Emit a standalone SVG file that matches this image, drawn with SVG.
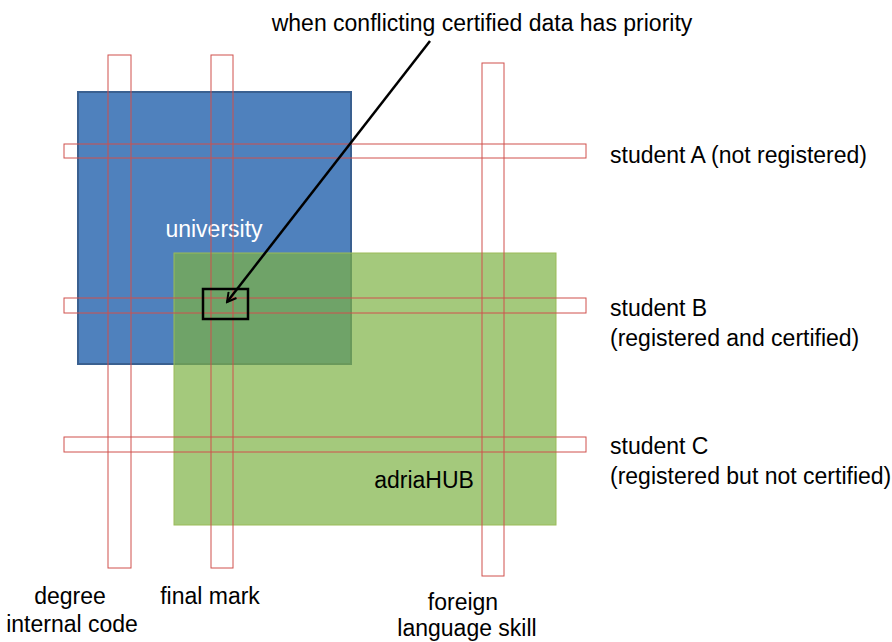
<svg xmlns="http://www.w3.org/2000/svg" width="892" height="642" viewBox="0 0 892 642">
<defs>
<style>
text{font-family:"Liberation Sans",Arial,sans-serif;font-size:23px;fill:#000}
.red{fill:none;stroke:#D0504D;stroke-width:1}
</style>
<marker id="ah" viewBox="0 0 12 12" refX="10" refY="6" markerWidth="12" markerHeight="12" markerUnits="userSpaceOnUse" orient="auto">
<path d="M1,1 L10,6 L1,11" fill="none" stroke="#000" stroke-width="2"/>
</marker>
</defs>
<rect width="892" height="642" fill="#fff"/>
<g id="university">
<rect x="78" y="92" width="273" height="272" fill="#4F81BD" stroke="#3A6090" stroke-width="2"/>
<text x="214" y="237" text-anchor="middle" style="fill:#fff">university</text>
</g>
<g id="adriahub">
<rect x="174" y="253" width="382" height="272" fill="#7EB245" fill-opacity="0.7" stroke="#9BBB59" stroke-width="1"/>
<text x="424" y="488" text-anchor="middle">adriaHUB</text>
</g>
<g id="student-a">
<rect class="red" x="64" y="144" width="522" height="14"/>
<text x="610" y="163">student A (not registered)</text>
</g>
<g id="student-b">
<rect class="red" x="64" y="298" width="522" height="15"/>
<text x="610" y="316">student B</text>
<text x="610" y="346">(registered and certified)</text>
</g>
<g id="student-c">
<rect class="red" x="64" y="437" width="522" height="15"/>
<text x="610" y="454">student C</text>
<text x="610" y="484">(registered but not certified)</text>
</g>
<g id="degree">
<rect class="red" x="108" y="55" width="23" height="513"/>
<text x="70" y="604" text-anchor="middle">degree</text>
<text x="72" y="632" text-anchor="middle">internal code</text>
</g>
<g id="final-mark">
<rect class="red" x="211" y="55" width="22" height="513"/>
<text x="210" y="604" text-anchor="middle">final mark</text>
</g>
<g id="foreign-language">
<rect class="red" x="482" y="63" width="22" height="513"/>
<text x="463" y="610" text-anchor="middle">foreign</text>
<text x="467" y="636" text-anchor="middle">language skill</text>
</g>
<g id="conflict">
<rect x="203" y="289" width="45" height="30" fill="none" stroke="#000" stroke-width="2.5"/>
<text x="482" y="31" text-anchor="middle">when conflicting certified data has priority</text>
</g>
<g id="connectors">
<line x1="430" y1="41" x2="227" y2="302" stroke="#000" stroke-width="2.5" marker-end="url(#ah)"/>
</g>
</svg>
